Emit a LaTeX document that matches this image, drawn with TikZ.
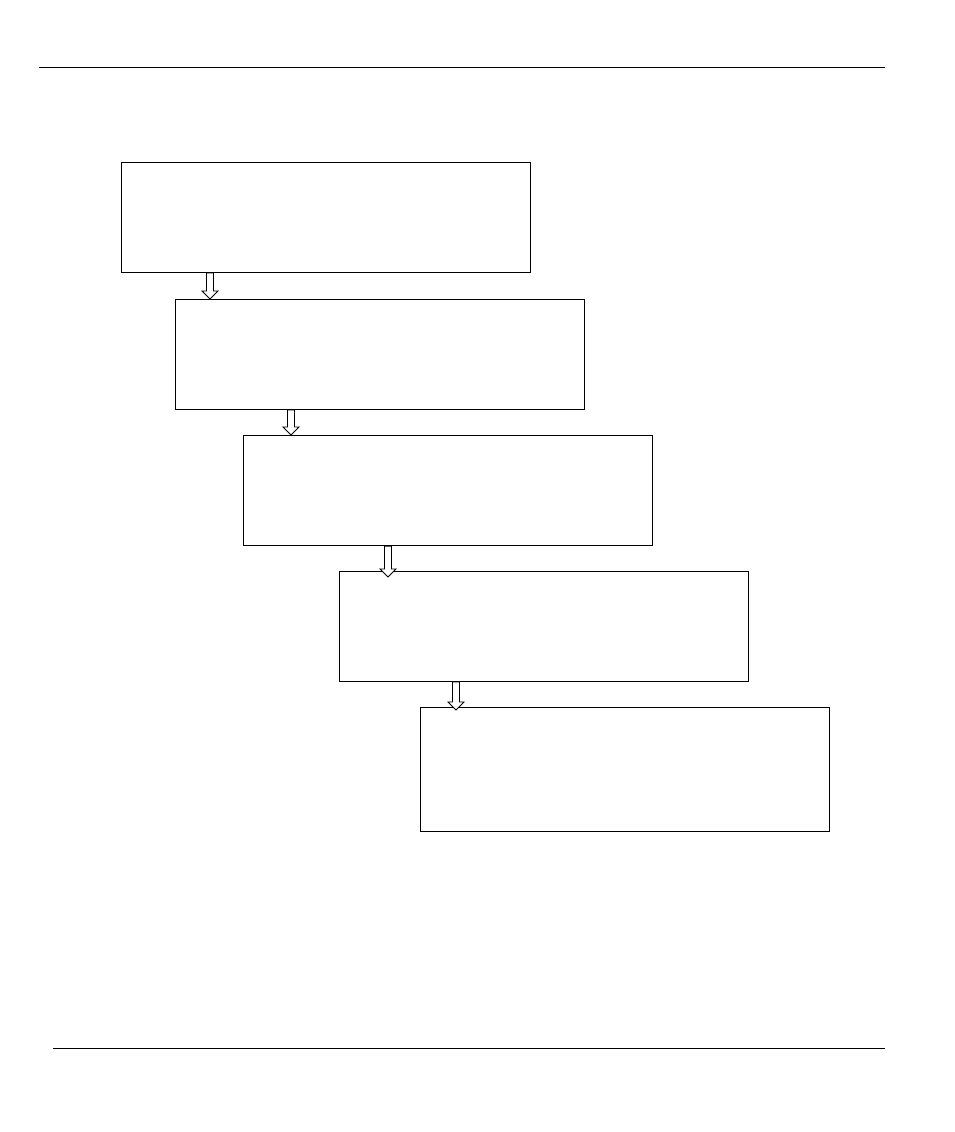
\documentclass[tikz,border=0pt]{standalone}
\usepackage{tikz}
\usetikzlibrary{calc, positioning}

\begin{document}
\begin{tikzpicture}[x=1pt, y=-1pt,
  stagebox/.style={draw=black, line width=1pt, minimum width=409pt, minimum height=110pt,
    anchor=north west, inner sep=0pt},
  heavybox/.style={stagebox, line width=1.3pt},
  pagerule/.style={black, line width=0.9pt},
  hollowarrow/.style={draw=black, line width=0.8pt, fill=white, line join=miter,
    to path={let \p1=(\tikztostart), \p2=(\tikztotarget) in
      (\x1-3.5pt,\y1) -- (\x1-3.5pt,\y2+8pt) -- (\x1-8pt,\y2+8pt) -- (\x2,\y2)
      -- (\x1+8pt,\y2+8pt) -- (\x1+3.5pt,\y2+8pt) -- (\x1+3.5pt,\y1) -- cycle}}]
  \useasboundingbox (0,0) rectangle (954,1132);
  % page rules
  \draw[pagerule] (39,67) -- (885,67);
  \draw[pagerule] (53,1048) -- (885,1048);
  % stage boxes, stepping down to the right
  \node[stagebox] (b1) at (121,162) {};
  \node[stagebox] (b2) at (175,299) {};
  \node[heavybox] (b3) at (243,435) {};
  \node[stagebox] (b4) at (339,571) {};
  \node[heavybox, minimum height=124pt] (b5) at (420,707) {};
  % arrow columns
  \coordinate (a1) at (210,0);
  \coordinate (a2) at (291,0);
  \coordinate (a3) at (388,0);
  \coordinate (a4) at (456,0);
  \draw[hollowarrow] (b1.south -| a1) to (b2.north -| a1);
  \draw[hollowarrow] (b2.south -| a2) to (b3.north -| a2);
  \draw[hollowarrow] (b3.south -| a3) to ($(b4.north -| a3)+(0,6)$);
  \draw[hollowarrow] (b4.south -| a4) to ($(b5.north -| a4)+(0,3)$);
\end{tikzpicture}
\end{document}
